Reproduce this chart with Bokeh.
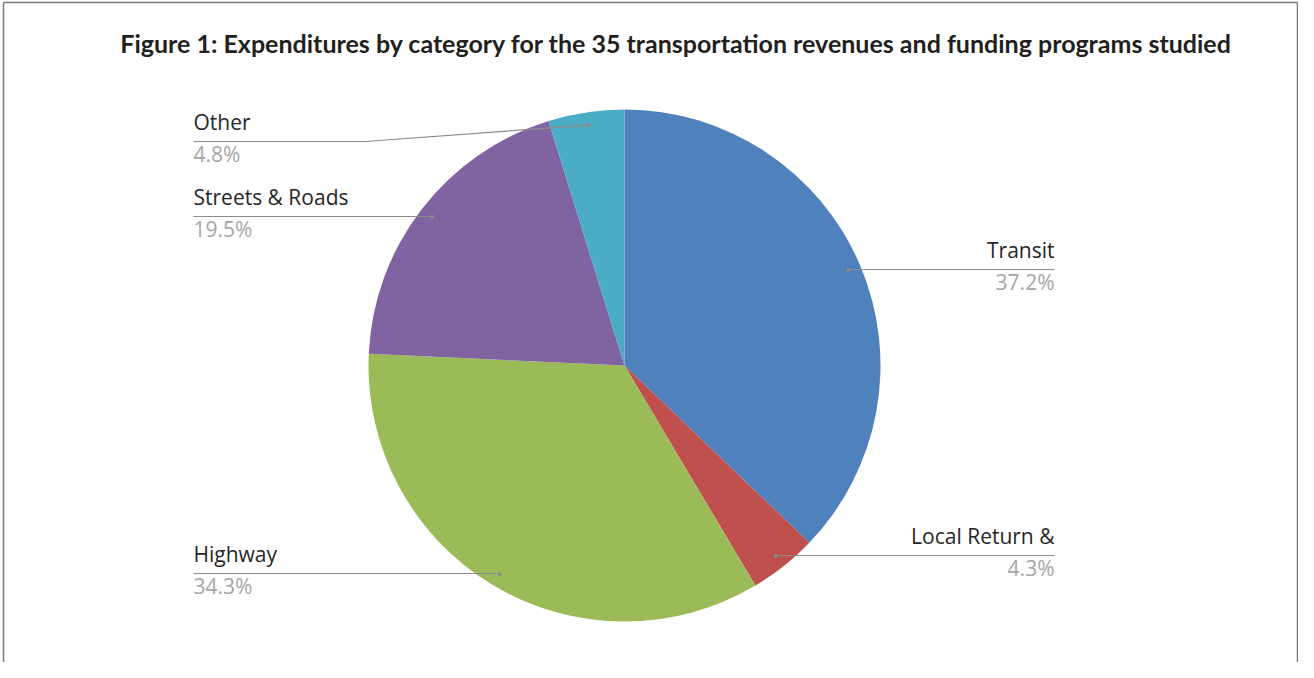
import math
from bokeh.plotting import figure
from bokeh.models import Range1d, ColumnDataSource
from bokeh.core.properties import value
from bokeh.embed import file_html
from bokeh.resources import INLINE

# ---- data ----
categories = ["Transit", "Local Return &", "Highway", "Streets & Roads", "Other"]
shares = [37.2, 4.3, 34.3, 19.5, 4.8]
pct_labels = ["37.2%", "4.3%", "34.3%", "19.5%", "4.8%"]
colors = ["#4F81BD", "#C0504D", "#9BBB59", "#8064A2", "#4BACC6"]
title = "Figure 1: Expenditures by category for the 35 transportation revenues and funding programs studied"

# ---- layout (reference pixel coordinates, y measured downward) ----
W, H = 1298, 662
PAGE_H = 678
cx, cy, R = 624, 365, 256
# label anchor x, line y, side ("L" = left aligned at x, "R" = right aligned at x)
label_layout = {
    "Transit": (1054, 269, "R"),
    "Local Return &": (1054, 555, "R"),
    "Highway": (193, 573, "L"),
    "Streets & Roads": (193, 216, "L"),
    "Other": (193, 141, "L"),
}
elbow = {"Other": 365}

def Y(y):
    return PAGE_H - y

p = figure(width=W, height=H, output_backend="svg", toolbar_location=None,
           x_range=Range1d(0, W), y_range=Range1d(PAGE_H - H, PAGE_H),
           min_border=0, background_fill_color="white", border_fill_color="white")
p.axis.visible = False
p.grid.visible = False
p.outline_line_color = None

# frame (left, top, right)
p.multi_line(xs=[[3, 3], [3, 1297], [1297, 1297]],
             ys=[[Y(700), Y(2)], [Y(2), Y(2)], [Y(2), Y(700)]],
             line_color="#7a7a7a", line_width=1.5)

# wedges
total = sum(shares)
starts, ends, mids = [], [], []
acc = 0.0
for s in shares:
    a0 = math.pi / 2 - acc / total * 2 * math.pi
    acc += s
    a1 = math.pi / 2 - acc / total * 2 * math.pi
    starts.append(a0)
    ends.append(a1)
    mids.append((a0 + a1) / 2)

src = ColumnDataSource(dict(start=starts, end=ends, color=colors, cat=categories))
p.wedge(x=cx, y=Y(cy), radius=R, start_angle="start", end_angle="end",
        direction="clock", fill_color="color", line_color=None, source=src)

# leader lines, dots and labels
line_col = "#8c8c8c"
for cat, pct, m in zip(categories, pct_labels, mids):
    dx = cx + 0.95 * R * math.cos(m)
    dy = Y(cy) + 0.95 * R * math.sin(m)
    ax, ly, side = label_layout[cat]
    if cat in elbow:
        xs = [ax, elbow[cat], dx]
        ys = [Y(ly), Y(ly), dy]
    else:
        xs = [ax, dx]
        ys = [Y(ly), Y(ly)]
    p.line(xs, ys, line_color=line_col, line_width=1.2)
    p.scatter([dx], [dy], size=3, color=line_col)
    align = "left" if side == "L" else "right"
    p.text(x=[ax], y=[Y(ly - 20)], text=[cat], text_align=align, text_baseline="middle",
           text_font=value("Open Sans"), text_font_size="21px", text_color="#262626")
    p.text(x=[ax], y=[Y(ly + 12)], text=[pct], text_align=align, text_baseline="middle",
           text_font=value("Open Sans"), text_font_size="21px", text_color="#a6a6a6")

# title
p.text(x=[676], y=[Y(42)], text=[title], text_align="center", text_baseline="middle",
       text_font=value("Lato"), text_font_style="bold", text_font_size="25px",
       text_color="#231f20")

open("out.html", "w").write(file_html(p, INLINE))
